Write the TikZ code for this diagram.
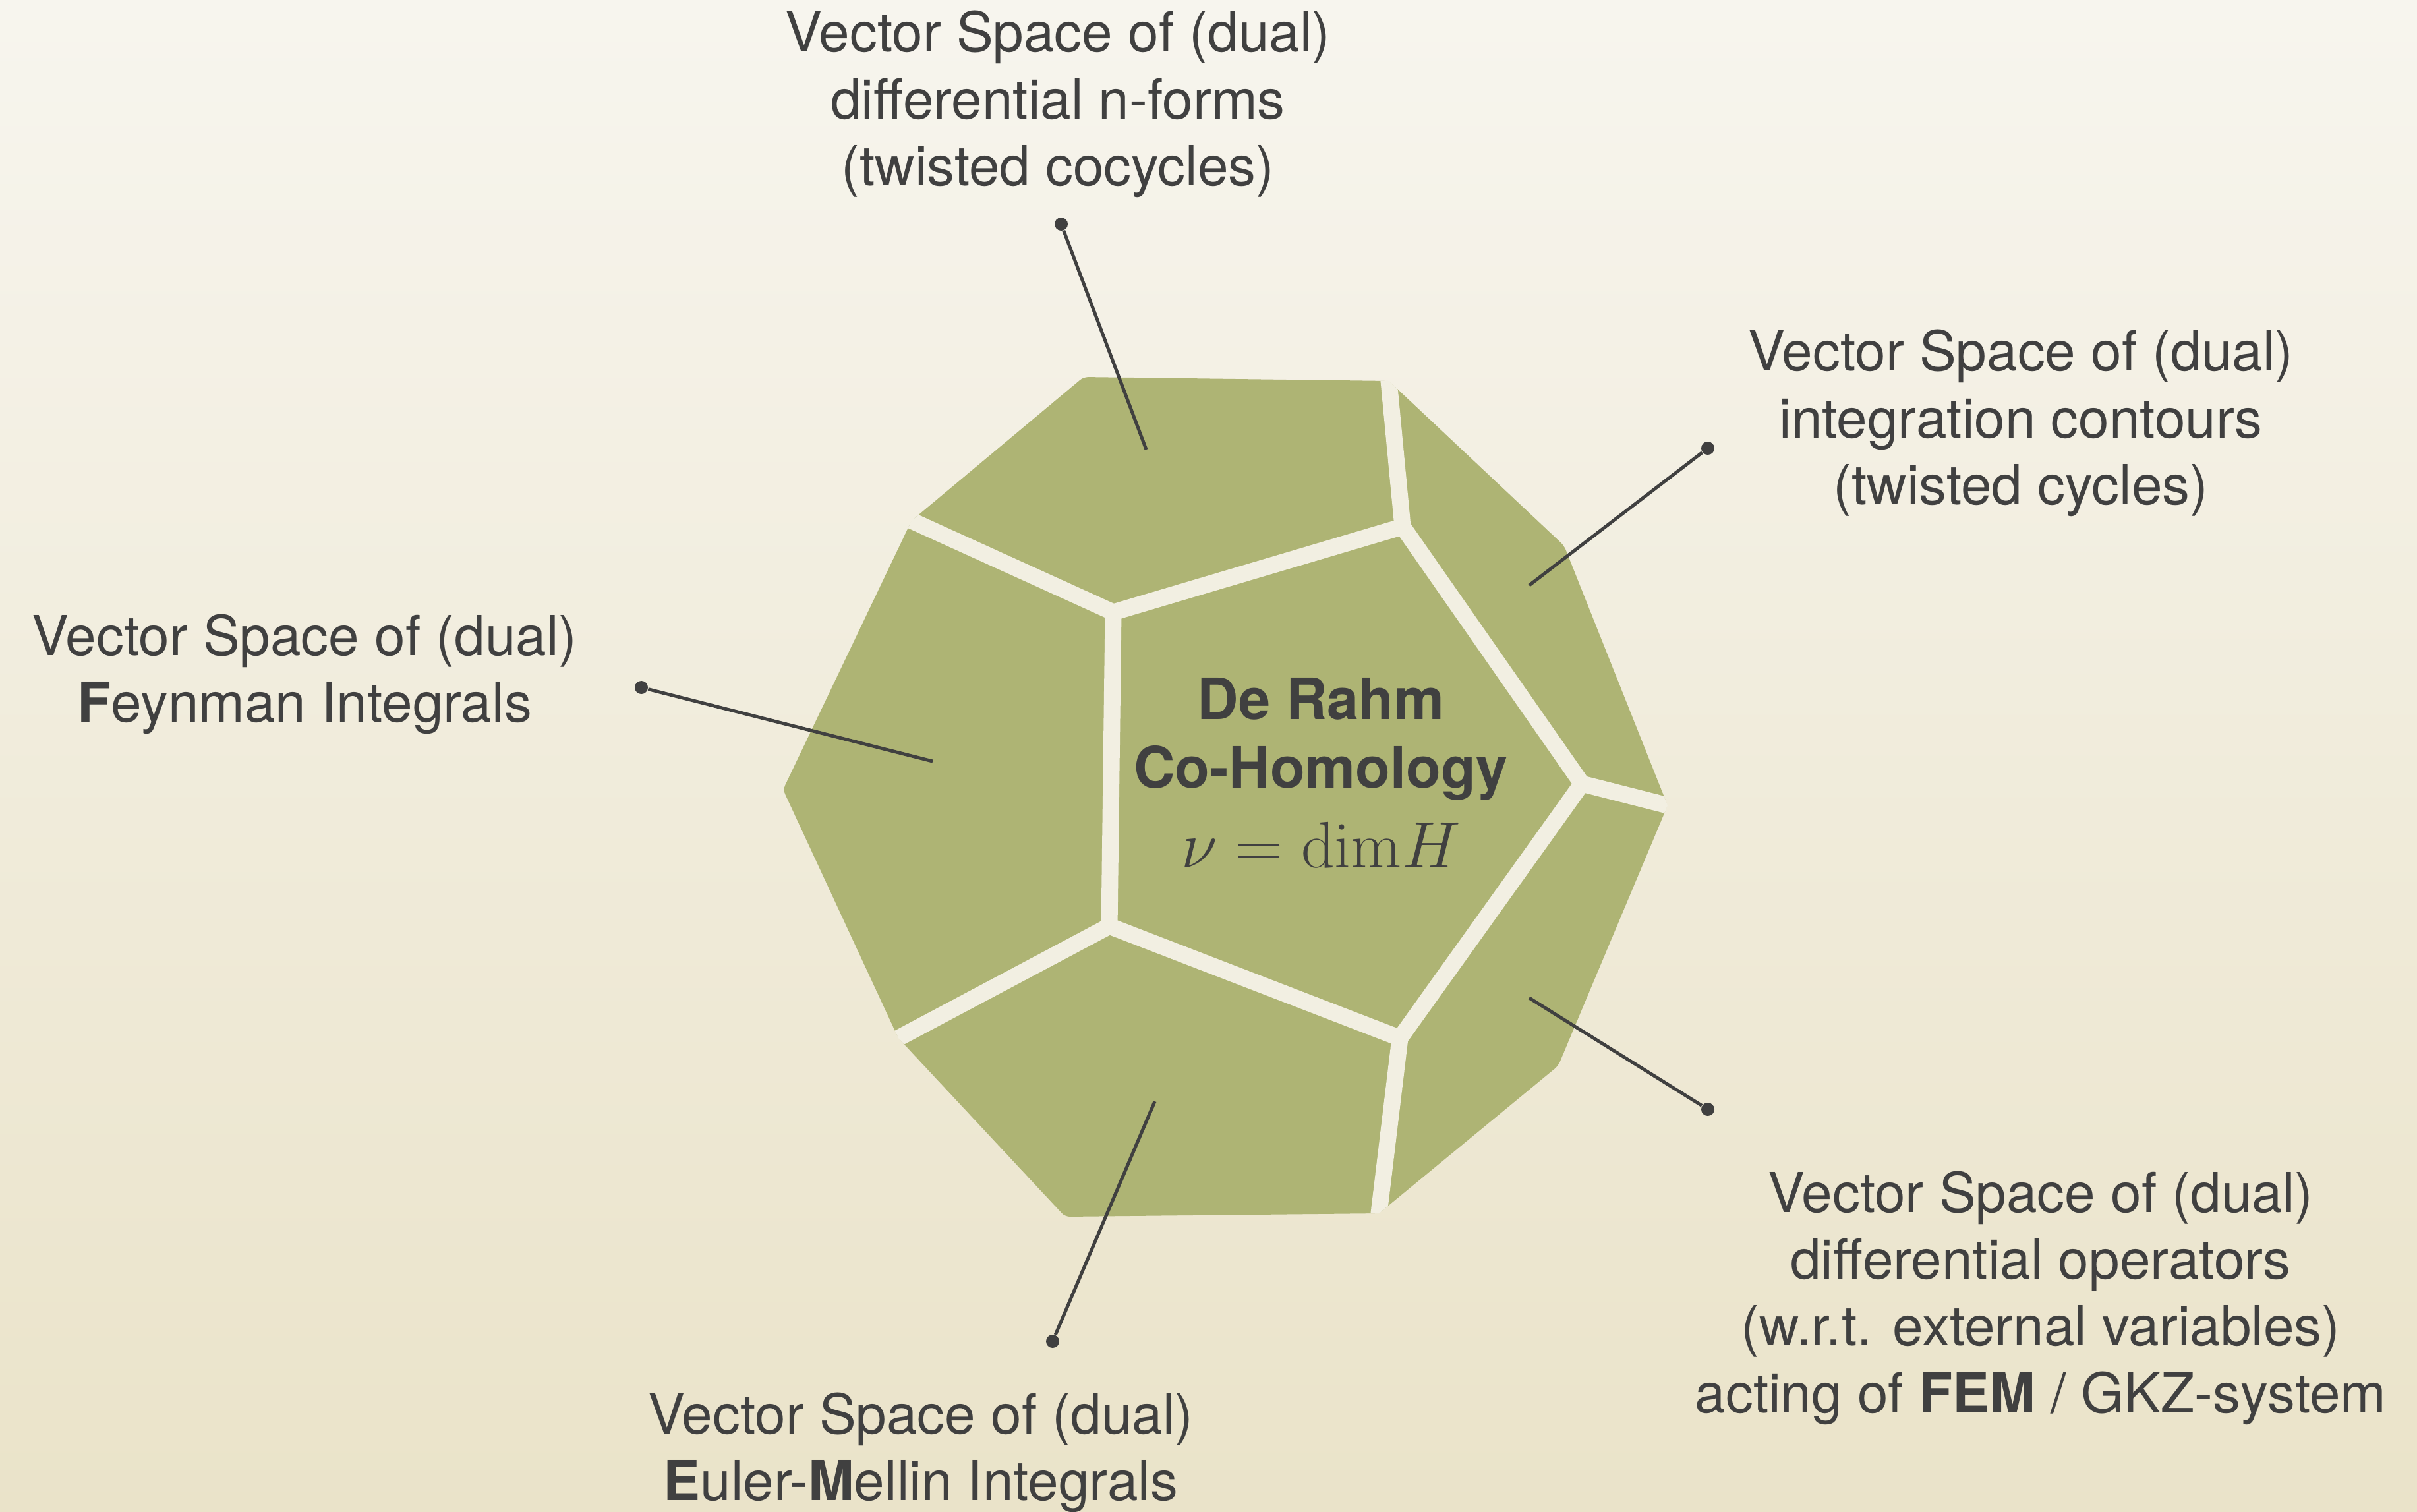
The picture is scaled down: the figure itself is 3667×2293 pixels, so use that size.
\documentclass[tikz,border=0pt]{standalone}
\usepackage{graphicx}
\usepackage[no-math]{fontspec}
\setmainfont{TeX Gyre Heros}
\usetikzlibrary{calc}

\definecolor{papertop}{HTML}{F7F5EE}
\definecolor{paperbot}{HTML}{EAE3C9}
\definecolor{olive}{HTML}{AEB474}
\definecolor{seamcol}{HTML}{F2EFE2}
\definecolor{ink}{HTML}{404040}

\begin{document}
\begin{tikzpicture}[
    x=0.01cm, y=-0.01cm,
    desc/.style={align=center, inner sep=0pt, text=ink, font=\fontsize{23.8}{28.8}\selectfont},
    knob/.style={circle, fill=ink, inner sep=0pt, minimum size=0.2cm},
    lead/.style={draw=ink, line width=0.05cm},
    seam/.style={draw=seamcol, line width=0.25cm, line cap=round, line join=round}
]
    \useasboundingbox (0,0) rectangle (3667,2293);
    \shade[top color=papertop, bottom color=paperbot] (0,0) rectangle (3667,2293);

    % front pentagon
    \coordinate (j1) at (1689,929);
    \coordinate (j2) at (2128,799);
    \coordinate (j3) at (2400,1189);
    \coordinate (j4) at (2124,1575);
    \coordinate (j5) at (1683,1405);
    % where the seams run out on the rim
    \coordinate (o1) at (1383,790);
    \coordinate (o2) at (2107,578);
    \coordinate (o3) at (2530,1222);
    \coordinate (o4) at (2092,1841);
    \coordinate (o5) at (1363,1575);
    % rim corners
    \coordinate (s1) at (1644,572);
    \coordinate (s2) at (2373,828);
    \coordinate (s3) at (2364,1617);
    \coordinate (s4) at (1616,1846);
    \coordinate (s5) at (1188,1198);

    % dodecahedron seen face on
    \fill[olive, rounded corners=2pt] (s1) -- (o2) -- (s2) -- (o3) -- (s3) -- (o4) -- (s4) -- (o5) -- (s5) -- (o1) -- cycle;
    \begin{scope}
        \clip (s1) -- (o2) -- (s2) -- (o3) -- (s3) -- (o4) -- (s4) -- (o5) -- (s5) -- (o1) -- cycle;
        \draw[seam] (j1) -- (j2) -- (j3) -- (j4) -- (j5) -- cycle;
        \foreach \i in {1,...,5}
            \draw[seam] (j\i) -- ($(j\i)!1.3!(o\i)$);
    \end{scope}

    % ends of the leads inside the faces
    \coordinate (f1) at (1739,682);
    \coordinate (f2) at (2320,888);
    \coordinate (f3) at (1415,1155);
    \coordinate (f4) at (2320,1514);
    \coordinate (f5) at (1752,1671);

    \node[knob] (k1) at (1610,340) {};
    \node[knob] (k2) at (2591,680) {};
    \node[knob] (k3) at (973,1043) {};
    \node[knob] (k4) at (2591,1683) {};
    \node[knob] (k5) at (1597,2035) {};

    \foreach \i in {1,...,5}
        \draw[lead] (k\i) -- (f\i);

    \node[desc] (forms) at (1605,158) {Vector Space of (dual)\\differential n-forms\\(twisted cocycles)};
    \node[desc] (contours) at (3066,642) {Vector Space of (dual)\\integration contours\\(twisted cycles)};
    \node[desc] (feynman) at (462,1023) {Vector Space of (dual)\\\textbf{F}eynman Integrals};
    \node[desc] (operators) at (3096,1969) {Vector Space of (dual)\\differential operators\\(w.r.t. external variables)\\acting of \textbf{FEM} / GKZ-system};
    \node[desc] (eulermellin) at (1397,2204) {Vector Space of (dual)\\\textbf{E}uler-\textbf{M}ellin Integrals};

    \node[desc, font=\fontsize{24.6}{29.6}\selectfont\bfseries] (derahm) at (2004,1172)
        {De Rahm\\Co-Homology\\[4.8pt]\scalebox{1.14}{\fontsize{24.88}{30}\selectfont\mdseries $\nu = \mathrm{dim}H$}};
\end{tikzpicture}
\end{document}
